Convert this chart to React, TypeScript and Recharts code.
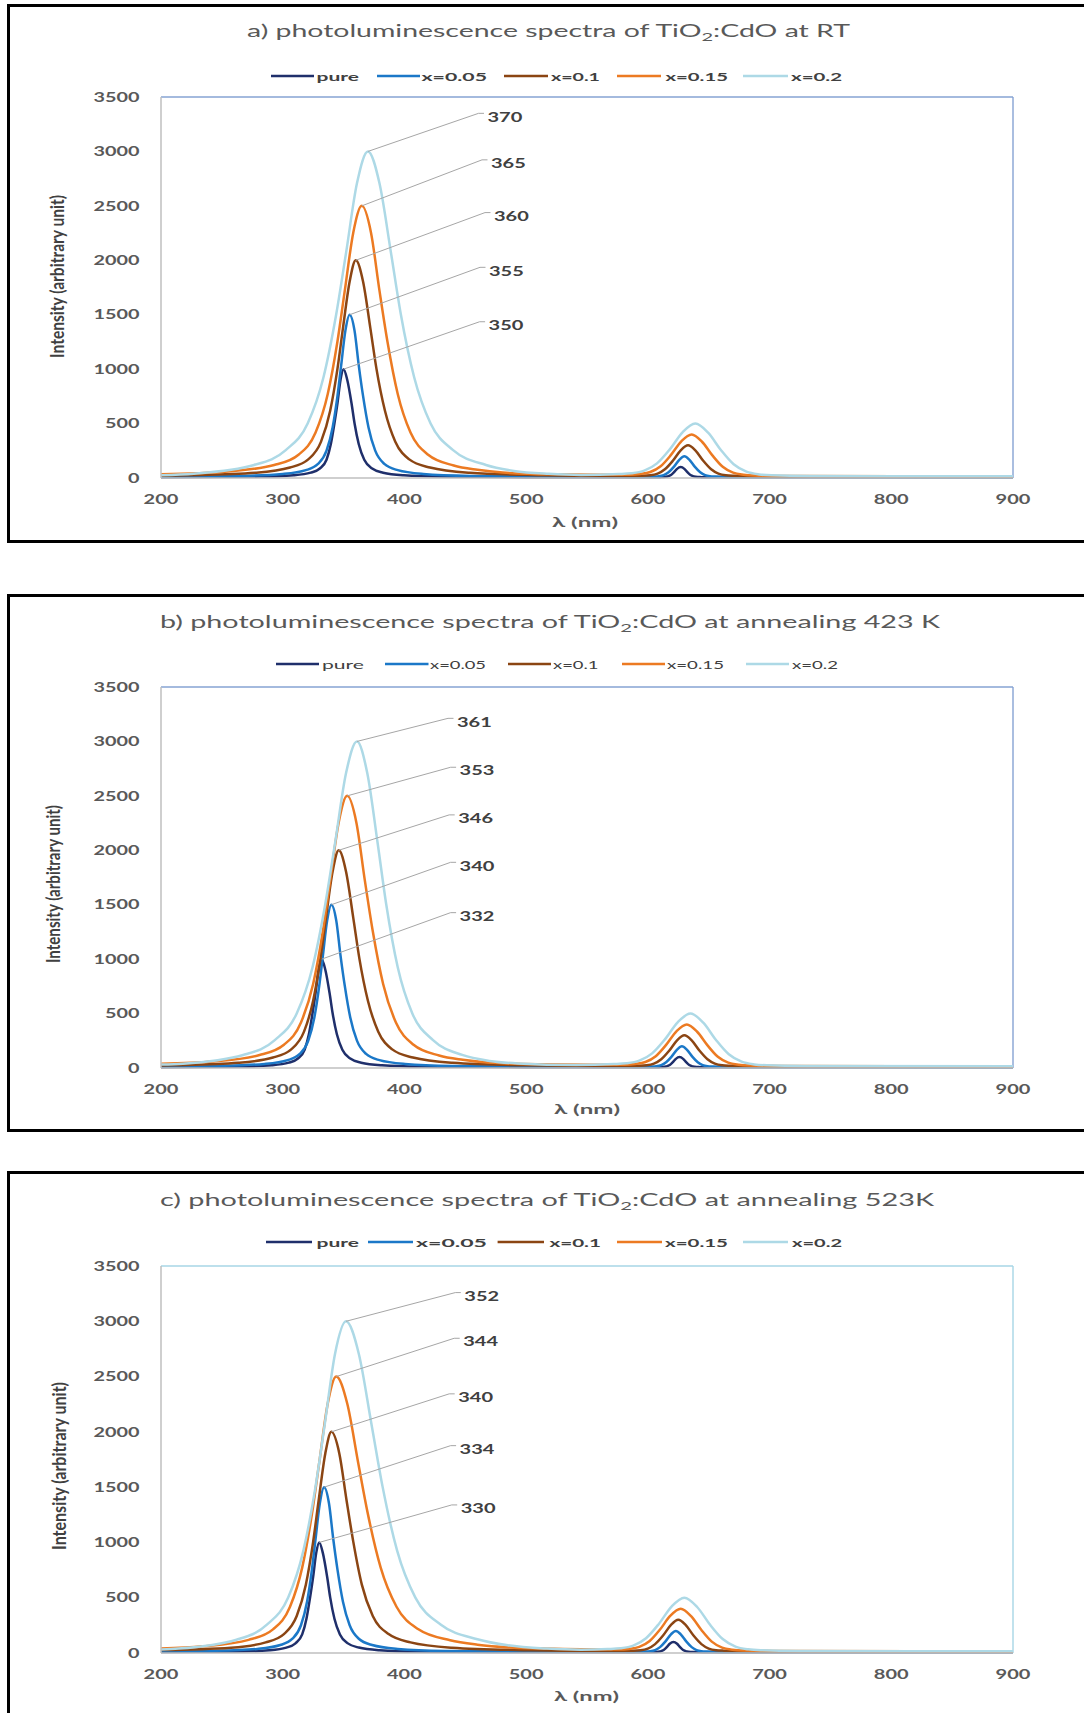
import React from 'react';
import { LineChart, Line, XAxis, YAxis, ReferenceLine } from 'recharts';

type Pt = [number, number];

// series names + colours, same for all three panels
const SERIES_NAMES = ['pure', 'x=0.05', 'x=0.1', 'x=0.15', 'x=0.2'];
const SERIES_COLORS = ['#1F2F6B', '#1B78C8', '#8B4513', '#EC7A22', '#ADD9E6'];

const X_TICKS = [200, 300, 400, 500, 600, 700, 800, 900];
const Y_TICKS = [0, 500, 1000, 1500, 2000, 2500, 3000, 3500];

// ---- a) RT ----  [wavelength nm, intensity]
const A_PURE: Pt[] = [[200,8],[282.5,13],[309,25],[323,49],[330.5,87],[336,168],[339.5,310],[342.5,503],[345,689],[347.5,903],[350,1000],[353,903],[356.5,689],[359,503],[362.5,310],[367,168],[373.5,87],[382.5,49],[399.5,25],[431,13],[500,8],[590,7],[602,7],[610.5,8],[613,9],[616,14],[619,27],[621.5,53],[624,84],[627,100],[630,84],[632.5,53],[635,27],[638,14],[641,9],[643.5,8],[652,7],[700,6],[900,6]];
const A_X005: Pt[] = [[200,12],[265,19],[300,37],[319,72],[329,129],[336,251],[341,464],[345,754],[348,1033],[351.5,1354],[355,1500],[359,1354],[362.5,1033],[366,754],[370.5,464],[376,251],[383.5,129],[394.5,72],[415.5,37],[454,19],[520,12],[580,11],[592,10],[604.5,13],[609,16],[613,26],[617,53],[621.5,105],[626,169],[630,200],[634,169],[638.5,105],[643,53],[647,26],[651,16],[655.5,13],[668,10],[700,9],[900,8]];
const A_X01: Pt[] = [[200,20],[225,25],[277.5,48],[306,96],[321,171],[331.5,334],[339,618],[345,1005],[349.5,1377],[355,1805],[360,2000],[366,1805],[372,1377],[377,1005],[384,618],[392.5,334],[404,171],[421,96],[453.5,48],[513,25],[560,18],[577,18],[595.5,21],[602,25],[608,40],[614,80],[620.5,158],[627,254],[633,300],[639,254],[645.5,158],[652,80],[658,40],[664,25],[670.5,21],[689,17],[700,14],[900,11]];
const A_X015: Pt[] = [[200,34],[255,60],[293,119],[313,214],[327,418],[337,772],[345,1256],[351,1721],[358,2256],[365,2500],[372.5,2256],[379.5,1721],[386,1256],[394.5,772],[405,418],[419.5,214],[440.5,115],[460,75],[480.5,50],[520,34],[560,31],[585,31],[593.5,37],[602,55],[610.5,108],[619,212],[627.5,337],[636,400],[644.5,333],[653,208],[661.5,103],[670,49],[678.5,30],[687,23],[712,19],[900,14]];
const A_X02: Pt[] = [[200,25],[227,40],[276.5,120],[302.5,256],[320.5,501],[333.5,926],[344,1507],[352,2065],[361,2707],[370,3000],[379.5,2707],[389,2065],[397,1507],[408,926],[421.5,501],[440,256],[467,120],[490,65],[518.5,38],[545,28],[576,36],[586.5,43],[597,67],[607.5,134],[618,263],[628.5,420],[639,500],[649.5,416],[660,257],[670.5,126],[681,58],[691.5,33],[702,25],[733,19],[900,16]];

// ---- b) 423 K ----
const B_PURE: Pt[] = [[200,8],[264.5,13],[291,25],[305,49],[312.5,87],[318,168],[321.5,310],[324.5,503],[327,689],[329.5,903],[332,1000],[335,903],[338.5,689],[341,503],[344.5,310],[349,168],[355.5,87],[364.5,49],[381.5,25],[413,13],[500,8],[590,7],[601,7],[609.5,8],[612,9],[615,14],[618,27],[620.5,53],[623,84],[626,100],[629,84],[631.5,53],[634,27],[637,14],[640,9],[642.5,8],[651,7],[700,6],[900,6]];
const B_X005: Pt[] = [[200,12],[250,19],[285,37],[304,72],[314,129],[321,251],[326,464],[330,754],[333,1033],[336.5,1354],[340,1500],[344,1354],[347.5,1033],[351,754],[355.5,464],[361,251],[368.5,129],[379.5,72],[400.5,37],[439,19],[520,12],[580,11],[590,10],[602.5,13],[607,16],[611,26],[615,53],[619.5,105],[624,169],[628,200],[632,169],[636.5,105],[641,53],[645,26],[649,16],[653.5,13],[666,10],[700,9],[900,8]];
const B_X01: Pt[] = [[200,22],[211,25],[263.5,48],[292,96],[307,171],[317.5,334],[325,618],[331,1005],[335.5,1377],[341,1805],[346,2000],[352,1805],[358,1377],[363,1005],[370,618],[378.5,334],[390,171],[407,96],[439.5,48],[499,25],[560,18],[574,18],[592.5,21],[599,25],[605,40],[611,80],[617.5,158],[624,254],[630,300],[636,254],[642.5,158],[649,80],[655,40],[661,25],[667.5,21],[686,17],[700,14],[900,11]];
const B_X015: Pt[] = [[200,40],[243,60],[281,119],[301,214],[315,418],[325,772],[333,1256],[339,1721],[346,2256],[353,2500],[360.5,2256],[367.5,1721],[374,1256],[382.5,772],[393,418],[407.5,214],[428.5,115],[448,75],[468.5,50],[510,34],[555,31],[581,31],[589.5,37],[598,55],[606.5,108],[615,212],[623.5,337],[632,400],[640.5,333],[649,208],[657.5,103],[666,49],[674.5,30],[683,23],[708,19],[900,14]];
const B_X02: Pt[] = [[200,32],[218,40],[267.5,120],[293.5,256],[311.5,501],[324.5,926],[335,1507],[343,2065],[352,2707],[361,3000],[369.5,2707],[378,2065],[385,1507],[394.5,926],[406.5,501],[423.5,256],[447.5,120],[470,65],[493,42],[541,28],[572,36],[582.5,43],[593,67],[603.5,134],[614,263],[624.5,420],[635,500],[645.5,416],[656,257],[666.5,126],[677,58],[687.5,33],[698,25],[729,19],[900,16]];

// ---- c) 523 K ----
const C_PURE: Pt[] = [[200,8],[262.5,13],[289,25],[303,49],[310.5,87],[316,168],[319.5,310],[322.5,503],[325,689],[327.5,903],[330,1000],[333,903],[336.5,689],[339,503],[342.5,310],[347,168],[353.5,87],[362.5,49],[379.5,25],[411,13],[500,8],[580,7],[596,7],[604.5,8],[607,9],[610,14],[613,27],[615.5,53],[618,84],[621,100],[624,84],[626.5,53],[629,27],[632,14],[635,9],[637.5,8],[646,7],[700,6],[900,6]];
const C_X005: Pt[] = [[200,13],[244,19],[279,37],[298,72],[308,129],[315,251],[320,464],[324,754],[327,1033],[330.5,1354],[334,1500],[338,1354],[341.5,1033],[345,754],[349.5,464],[355,251],[362.5,129],[373.5,72],[394.5,37],[433,19],[520,12],[575,11],[585,10],[597.5,13],[602,16],[606,26],[610,53],[614.5,105],[619,169],[623,200],[627,169],[631.5,105],[636,53],[640,26],[644,16],[648.5,13],[661,10],[700,9],[900,8]];
const C_X01: Pt[] = [[200,26],[257.5,48],[286,96],[301,171],[311.5,334],[319,618],[325,1005],[329.5,1377],[335,1805],[340,2000],[346.5,1805],[352.5,1377],[358,1005],[365,618],[374,334],[387,171],[405,96],[439,48],[502,25],[555,18],[569,18],[587.5,21],[594,25],[600,40],[606,80],[612.5,158],[619,254],[625,300],[631,254],[637.5,158],[644,80],[650,40],[656,25],[662.5,21],[681,17],[700,14],[900,11]];
const C_X015: Pt[] = [[200,40],[234,60],[272,119],[292,214],[306,418],[316,772],[324,1256],[330,1721],[337,2256],[344,2500],[353,2256],[362,1721],[370,1256],[380.5,772],[393.5,418],[411.5,214],[437.5,115],[460,75],[487,50],[530,36],[560,32],[576,31],[584.5,37],[593,55],[601.5,108],[610,212],[618.5,337],[627,400],[635.5,333],[644,208],[652.5,103],[661,49],[669.5,30],[678,23],[703,19],[900,14]];
const C_X02: Pt[] = [[200,32],[214.5,40],[262,120],[287,256],[304.5,501],[317,926],[327,1507],[334.5,2065],[343,2707],[352,3000],[362.5,2707],[373,2065],[382,1507],[394,926],[409,501],[430,256],[460,125],[485,70],[517,40],[545,30],[567,36],[577.5,43],[588,67],[598.5,134],[609,263],[619.5,420],[630,500],[640.5,416],[651,257],[661.5,126],[672,58],[682.5,33],[693,25],[724,19],[900,16]];

const PANELS = [
  {
    key: 'a', title: ['a) photoluminescence spectra of TiO', '2', ':CdO at RT'],
    series: [A_PURE, A_X005, A_X01, A_X015, A_X02],
    box: { top: 4, height: 539 }, plotTop: 97, plotH: 381, frame: '#86A3D3',
    titlePos: { x: 247, y: 36.5, len: 603 },
    legendY: 76, legendBold: true,
    legendLines: [[271, 314], [377, 420], [504, 548], [617, 661], [743, 788]],
    legendText: [[316.5, 42.5], [421.5, 65.5], [551, 49], [665.5, 62.5], [791, 51]],
    yTitle: { x: 57, y: 276.5, len: 163 }, xTitle: { x: 552, y: 527, len: 66 },
    labelX: [488.6, 489, 494, 491, 487.5], labelDy: [-44, -44, -44.3, -42.6, -34.7],
  },
  {
    key: 'b', title: ['b) photoluminescence spectra of TiO', '2', ':CdO at annealing 423 K'],
    series: [B_PURE, B_X005, B_X01, B_X015, B_X02],
    box: { top: 594, height: 538 }, plotTop: 687, plotH: 381, frame: '#86A3D3',
    titlePos: { x: 160, y: 628, len: 780 },
    legendY: 664, legendBold: false,
    legendLines: [[276, 319], [385, 428.5], [508, 551], [622, 665], [746, 789]],
    legendText: [[322, 42], [430, 56], [553, 45.5], [667, 57], [792, 46]],
    yTitle: { x: 53, y: 884, len: 158 }, xTitle: { x: 554, y: 1114, len: 66 },
    labelX: [459.6, 459.6, 458.2, 459.6, 457], labelDy: [-43.1, -39, -32, -25.2, -19.7],
  },
  {
    key: 'c', title: ['c) photoluminescence spectra of TiO', '2', ':CdO at annealing 523K'],
    series: [C_PURE, C_X005, C_X01, C_X015, C_X02],
    box: { top: 1171, height: 600 }, plotTop: 1266, plotH: 387, frame: '#A7D6E6',
    titlePos: { x: 160, y: 1206, len: 774 },
    legendY: 1242, legendBold: true,
    legendLines: [[266, 312], [368, 413], [497.6, 544], [617, 662], [743, 788]],
    legendText: [[316.5, 42.5], [416, 71], [549.4, 51.6], [665, 63], [792, 50]],
    yTitle: { x: 59, y: 1466, len: 168 }, xTitle: { x: 554, y: 1701, len: 65 },
    labelX: [460.7, 459.6, 458.2, 463.2, 464.3], labelDy: [-34.1, -38.1, -34.6, -34.9, -25.3],
  },
];

const FONT = 'Lato, "DejaVu Sans", sans-serif';

const XTick = (props: any) => {
  const { x, y, payload } = props;
  const s = String(payload.value);
  return (
    <text x={x} y={y + 25.5} textAnchor="middle" fontFamily={FONT} fontWeight="bold" fontSize={13}
      fill="#595959" textLength={s.length * 11.6} lengthAdjust="spacingAndGlyphs">{s}</text>
  );
};

const YTick = (props: any) => {
  const { x, y, payload } = props;
  const s = String(payload.value);
  return (
    <text x={x} y={y + 4.7} textAnchor="end" fontFamily={FONT} fontWeight="bold" fontSize={13}
      fill="#595959" textLength={s.length * 11.5} lengthAdjust="spacingAndGlyphs">{s}</text>
  );
};

// Excel-style data label with leader line, only on the peak point
const peakLabel = (pts: Pt[], lx: number, dy: number) => {
  let peak = 0;
  pts.forEach((p, i) => { if (p[1] > pts[peak][1]) peak = i; });
  return (props: any) => {
    if (props.index !== peak) return <g />;
    const x = props.x ?? props.viewBox?.x;
    const y = props.y ?? props.viewBox?.y;
    const ly = y + dy;
    const s = String(pts[peak][0]);
    return (
      <g>
        <polyline points={`${x},${y} ${lx - 9},${ly - 3.4} ${lx - 3.5},${ly - 3.4}`} fill="none" stroke="#A6A6A6" strokeWidth={1} />
        <text x={lx} y={ly + 4.8} fontFamily={FONT} fontWeight="bold" fontSize={13} fill="#404040"
          textLength={s.length * 11.6} lengthAdjust="spacingAndGlyphs">{s}</text>
      </g>
    );
  };
};

function Spectrum({ p }: { p: (typeof PANELS)[number] }) {
  const h = p.plotH + 80;
  return (
    <div style={{ position: 'absolute', left: 0, top: p.plotTop - 20 }}>
      <LineChart width={1084} height={h} margin={{ top: 20, right: 71, bottom: 20, left: 0 }}>
        <XAxis type="number" dataKey="x" domain={[200, 900]} ticks={X_TICKS} interval={0} allowDataOverflow
          height={40} tickLine={false} tickSize={0} tickMargin={0} axisLine={{ stroke: '#BFBFBF', strokeWidth: 1.5 }} tick={<XTick />} />
        <YAxis type="number" domain={[0, 3500]} ticks={Y_TICKS} interval={0} width={161}
          tickLine={false} tickSize={0} tickMargin={21.5} axisLine={{ stroke: '#BFBFBF', strokeWidth: 1.5 }} tick={<YTick />} />
        <ReferenceLine y={3500} stroke={p.frame} strokeWidth={1.4} />
        <ReferenceLine x={900} stroke={p.frame} strokeWidth={1.4} />
        {p.series.map((s, i) => (
          <Line key={SERIES_NAMES[i]} data={s.map(([x, y]) => ({ x, y }))} dataKey="y" name={SERIES_NAMES[i]}
            type="monotone" stroke={SERIES_COLORS[i]} strokeWidth={2.5} dot={false} activeDot={false}
            isAnimationActive={false} label={peakLabel(s, p.labelX[i], p.labelDy[i])} />
        ))}
      </LineChart>
    </div>
  );
}

function Texts({ p }: { p: (typeof PANELS)[number] }) {
  const t = p.titlePos;
  return (
    <g>
      <text x={t.x} y={t.y} fontFamily={FONT} fontSize={17} fill="#595959" textLength={t.len} lengthAdjust="spacingAndGlyphs">
        {p.title[0]}<tspan dy={4} fontSize={12}>{p.title[1]}</tspan><tspan dy={-4}>{p.title[2]}</tspan>
      </text>
      {SERIES_NAMES.map((n, i) => (
        <g key={n}>
          <line x1={p.legendLines[i][0]} x2={p.legendLines[i][1]} y1={p.legendY} y2={p.legendY} stroke={SERIES_COLORS[i]} strokeWidth={2.6} />
          <text x={p.legendText[i][0]} y={p.legendY + 4.5} fontFamily={FONT} fontSize={12} fontWeight={p.legendBold ? 'bold' : 'normal'}
            fill="#404040" textLength={p.legendText[i][1]} lengthAdjust="spacingAndGlyphs">{n}</text>
        </g>
      ))}
      <text transform={`translate(${p.yTitle.x} ${p.yTitle.y}) scale(1.45 1) rotate(-90)`} textAnchor="middle" dy={4.5}
        fontFamily={FONT} fontSize={13} fontWeight="bold" fill="#404040" textLength={p.yTitle.len} lengthAdjust="spacingAndGlyphs">
        Intensity (arbitrary unit)
      </text>
      <text x={p.xTitle.x} y={p.xTitle.y} fontFamily={FONT} fontSize={14} fontWeight="bold" fill="#595959"
        textLength={p.xTitle.len} lengthAdjust="spacingAndGlyphs">λ (nm)</text>
    </g>
  );
}

export default function App() {
  return (
    <div style={{ position: 'absolute', left: 0, top: 0, width: 1084, height: 1713, overflow: 'hidden', background: '#fff' }}>
      {PANELS.map((p) => (
        <div key={'box' + p.key} style={{ position: 'absolute', left: 7, top: p.box.top, width: 1100, height: p.box.height,
          border: '3px solid #000', boxSizing: 'border-box' }} />
      ))}
      {PANELS.map((p) => <Spectrum key={p.key} p={p} />)}
      <svg width={1084} height={1713} style={{ position: 'absolute', left: 0, top: 0, pointerEvents: 'none' }}>
        {PANELS.map((p) => <Texts key={'t' + p.key} p={p} />)}
      </svg>
    </div>
  );
}
